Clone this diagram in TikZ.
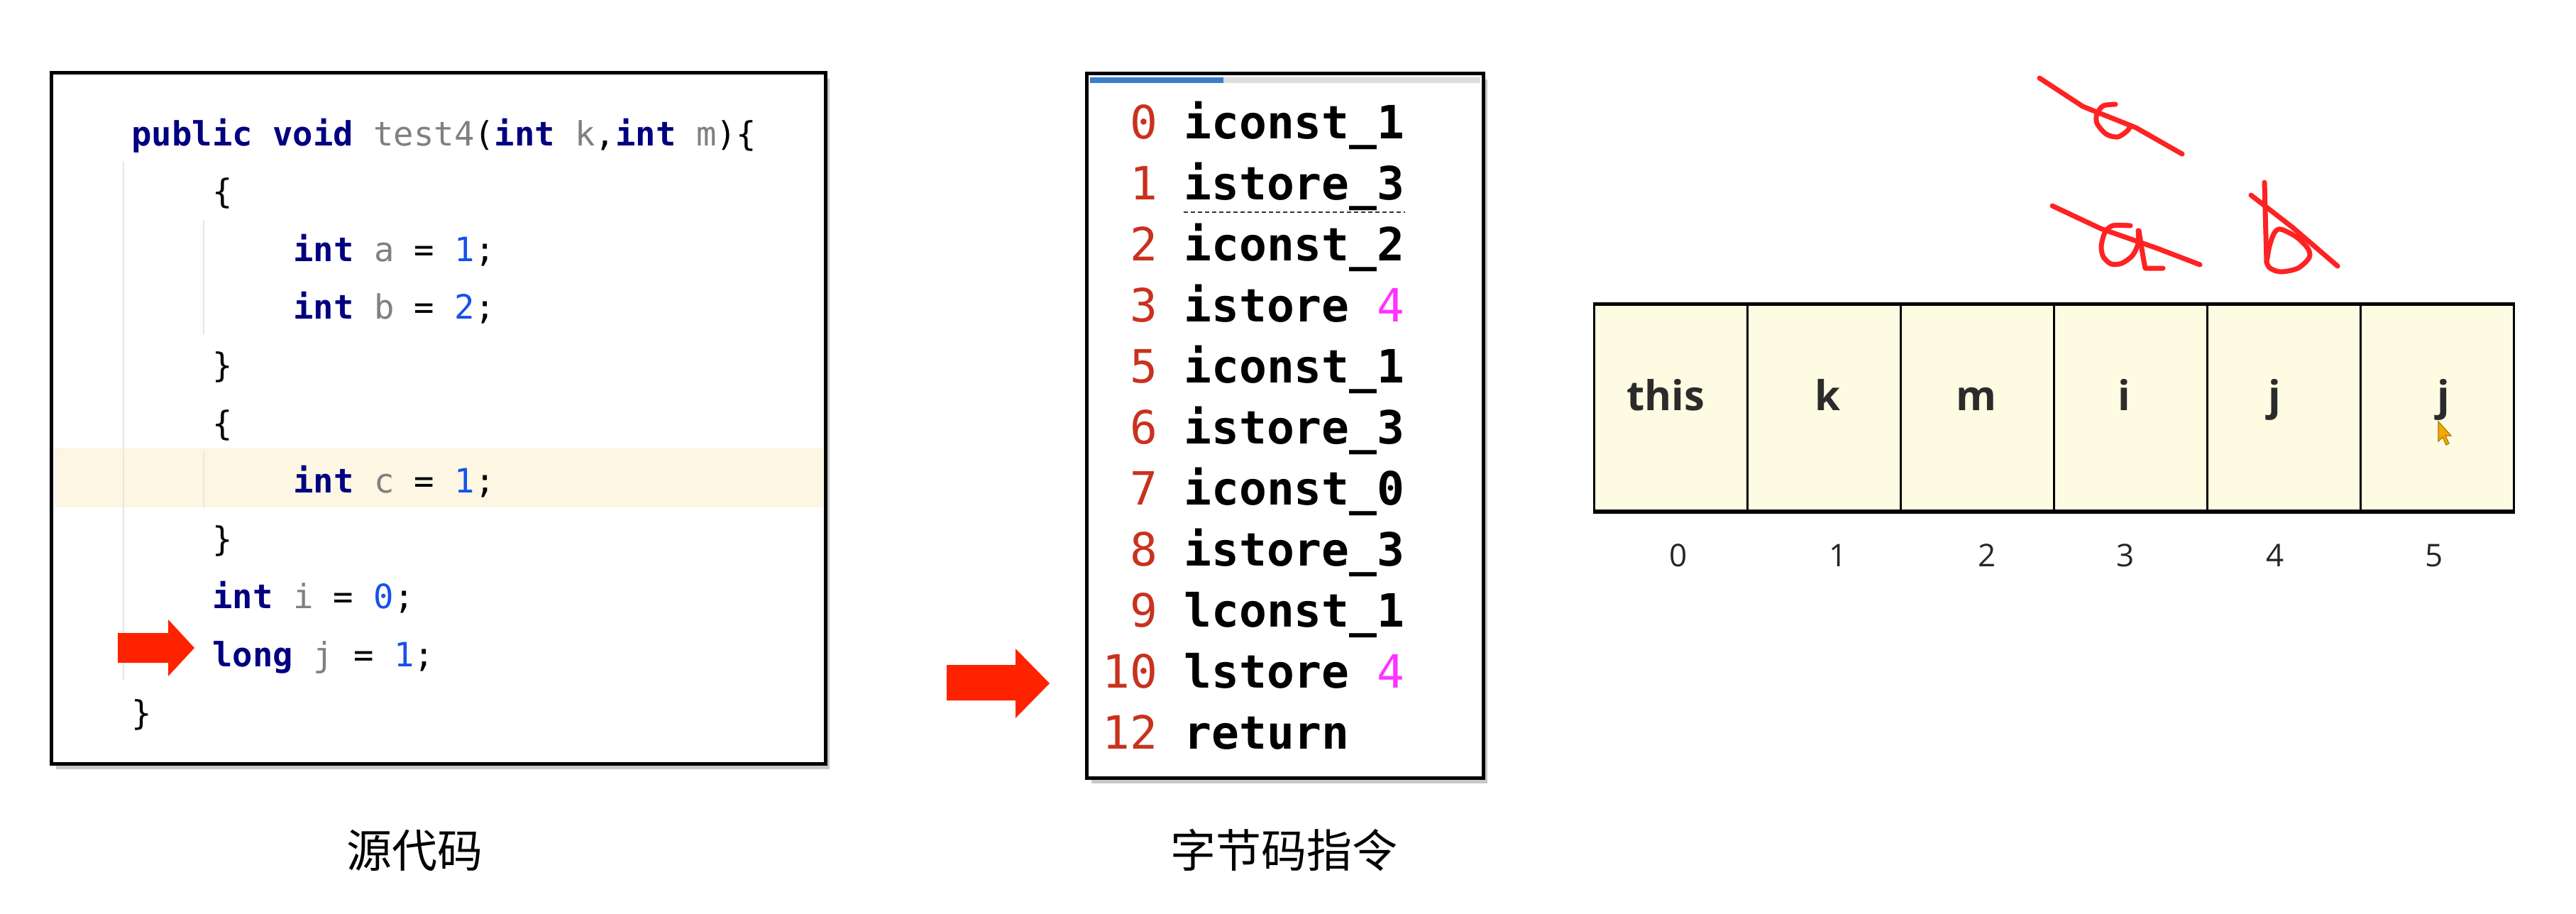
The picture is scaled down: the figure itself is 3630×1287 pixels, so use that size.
\documentclass[tikz,border=0pt]{standalone}
\usepackage{fontspec}
\setmainfont{Open Sans}
\newfontfamily\codefont{DejaVu Sans Mono}
\newfontfamily\tabfont{Open Sans}
\newfontfamily\cjkfont{Noto Sans CJK SC}
\usetikzlibrary{shadows}
\definecolor{kwblue}{HTML}{000080}
\definecolor{idgrey}{HTML}{808080}
\definecolor{numblue}{HTML}{1750EB}
\definecolor{bcred}{HTML}{C8321E}
\definecolor{bcmag}{HTML}{FF33FF}
\definecolor{cellfill}{HTML}{FEFBE3}
\definecolor{hlband}{HTML}{FCF6E2}
\definecolor{penred}{HTML}{FF2222}
\definecolor{arrowred}{HTML}{FF2200}
\definecolor{barblue}{HTML}{3C7DCA}
\definecolor{bargrey}{HTML}{DDDDDD}
\definecolor{guidegrey}{HTML}{E6E6E6}
\definecolor{tabtext}{HTML}{2B2B2B}
\definecolor{cursor}{HTML}{F5A800}
\newcommand\jkw[1]{{\bfseries\color{kwblue}#1}}
\newcommand\jid[1]{{\color{idgrey}#1}}
\newcommand\jnum[1]{{\color{numblue}#1}}
\tikzset{
  panel/.style={fill=white, inner sep=0pt,
    drop shadow={shadow xshift=3pt, shadow yshift=-4pt, opacity=0.3, fill=black!70}},
  frame/.style={draw=black, line width=2.5pt},
  guide/.style={draw=guidegrey, line width=1pt},
  codetxt/.style={inner sep=0pt, anchor=base west, font=\codefont\fontsize{23.6pt}{28pt}\selectfont},
  bcnum/.style={inner sep=0pt, anchor=base east, text=bcred, font=\codefont\fontsize{32.3pt}{38pt}\selectfont},
  bcins/.style={inner sep=0pt, anchor=base west, font=\codefont\bfseries\fontsize{32.3pt}{38pt}\selectfont},
  uline/.style={draw=black!80, line width=1pt, dash pattern=on 3pt off 2pt},
  blockarrow/.style={fill=arrowred},
  cell/.style={draw=black, line width=1.5pt, fill=cellfill, anchor=north west,
    minimum width=108pt, minimum height=145pt, inner sep=0pt},
  celltxt/.style={inner sep=0pt, anchor=base, text=tabtext, font=\tabfont\bfseries\fontsize{29pt}{34pt}\selectfont},
  idxtxt/.style={inner sep=0pt, anchor=base, text=black!85, font=\tabfont\fontsize{22pt}{26pt}\selectfont},
  pen/.style={draw=penred, line width=3.5pt, line cap=round, line join=round},
  captxt/.style={inner sep=0pt, anchor=base, font=\cjkfont\fontsize{32pt}{38pt}\selectfont}
}
\begin{document}
\begin{tikzpicture}[x=0.5pt,y=-0.5pt]
\fill[white] (0,0) rectangle (3630,1287);
\useasboundingbox (0,0) rectangle (3630,1287);

% ---------- source code panel ----------
\node[panel, minimum width=545pt, minimum height=486.5pt] (codebox) at (618,589.5) {};
\fill[hlband] (78,631) rectangle (1160,715);
\draw[guide] (174,228) -- (174,959);
\draw[guide] (287,310) -- (287,472);
\draw[guide] (287,636) -- (287,715);
\draw[frame] (codebox.north west) rectangle (codebox.south east);

\node[codetxt] (l0) at (185,205) {\jkw{public void} \jid{test4}(\jkw{int} \jid{k},\jkw{int} \jid{m})\{};
\node[codetxt] (l1) at (299,286.6) {\{};
\node[codetxt] (l2) at (413,368.2) {\jkw{int} \jid{a} = \jnum{1};};
\node[codetxt] (l3) at (413,449.8) {\jkw{int} \jid{b} = \jnum{2};};
\node[codetxt] (l4) at (299,531.4) {\}};
\node[codetxt] (l5) at (299,613) {\{};
\node[codetxt] (l6) at (413,694.6) {\jkw{int} \jid{c} = \jnum{1};};
\node[codetxt] (l7) at (299,776.2) {\}};
\node[codetxt] (l8) at (299,857.8) {\jkw{int} \jid{i} = \jnum{0};};
\node[codetxt] (l9) at (299,939.4) {\jkw{long} \jid{j} = \jnum{1};};
\node[codetxt] (l10) at (185,1021) {\}};

\fill[blockarrow] (166,892) -- (237,892) -- (237,873) -- (274,913) -- (237,953) -- (237,934) -- (166,934) -- cycle;

% ---------- bytecode panel ----------
\node[panel, minimum width=279pt, minimum height=496pt] (bcbox) at (1811,600) {};
\fill[bargrey] (1536,109) rectangle (2086,117);
\fill[barblue] (1536,109) rectangle (1724,117);
\draw[frame] (bcbox.north west) rectangle (bcbox.south east);

\node[bcnum] (n0) at (1632,195) {0};   \node[bcins] (i0) at (1668,195) {iconst\_1};
\node[bcnum] (n1) at (1632,281) {1};   \node[bcins] (i1) at (1668,281) {istore\_3};
\node[bcnum] (n2) at (1632,367) {2};   \node[bcins] (i2) at (1668,367) {iconst\_2};
\node[bcnum] (n3) at (1632,453) {3};   \node[bcins] (i3) at (1668,453) {istore {\mdseries\color{bcmag}4}};
\node[bcnum] (n4) at (1632,539) {5};   \node[bcins] (i4) at (1668,539) {iconst\_1};
\node[bcnum] (n5) at (1632,625) {6};   \node[bcins] (i5) at (1668,625) {istore\_3};
\node[bcnum] (n6) at (1632,711) {7};   \node[bcins] (i6) at (1668,711) {iconst\_0};
\node[bcnum] (n7) at (1632,797) {8};   \node[bcins] (i7) at (1668,797) {istore\_3};
\node[bcnum] (n8) at (1632,883) {9};   \node[bcins] (i8) at (1668,883) {lconst\_1};
\node[bcnum] (n9) at (1632,969) {10};  \node[bcins] (i9) at (1668,969) {lstore {\mdseries\color{bcmag}4}};
\node[bcnum] (n10) at (1632,1055) {12}; \node[bcins] (i10) at (1668,1055) {return};
\draw[uline] ([yshift=-9pt]i1.base west) -- ([yshift=-9pt]i1.base east);

\fill[blockarrow] (1334,937) -- (1431,937) -- (1431,914) -- (1479,963) -- (1431,1012) -- (1431,987) -- (1334,987) -- cycle;

% ---------- local variable table ----------
\foreach \i/\lab/\lx/\nx in {0/this/2347/2365, 1/k/2575/2590, 2/m/2785/2800, 3/i/2993/2995, 4/j/3205/3206, 5/j/3443/3430}{
  \node[cell] (cell\i) at ({2245+216*\i},428) {};
  \node[celltxt] (lab\i) at (\lx,578) {\lab};
  \node[idxtxt] (idx\i) at (\nx,798) {\i};
}
\draw[line width=2.5pt] (cell0.north west) -- (cell5.north east);
\draw[line width=2.5pt] (cell0.south west) -- (cell5.south east);

% mouse cursor
\filldraw[fill=cursor, draw=cursor!70!black, line width=0.6pt]
  (3436,594) -- (3436,622) -- (3442,616) -- (3447,627) -- (3451,625) -- (3446,614) -- (3454,614) -- cycle;

% ---------- handwritten strokes ----------
\draw[pen] (2874,110) -- (2935,150) -- (3010,180) -- (3075,217);
\draw[pen] plot[smooth] coordinates {(2981,147) (2964,149) (2955,160) (2955,174) (2968,189) (2984,193) (2997,185) (3002,178)};
\draw[pen] (2892,290) -- (2960,322) -- (3040,350) -- (3100,373);
\draw[pen] plot[smooth] coordinates {(3002,318) (2977,318) (2966,328) (2961,347) (2964,362) (2975,372) (2990,371) (3005,360) (3013,343) (3013,325)};
\draw[pen] plot[smooth] coordinates {(3014,325) (3018,350) (3021,368) (3023,378)} -- (3048,378);
\draw[pen] (3191,257) -- (3194,370);
\draw[pen] plot[smooth] coordinates {(3194,370) (3198,347) (3205,328) (3214,323) (3236,334) (3252,350) (3254,363) (3238,378) (3214,383) (3199,378) (3194,370)};
\draw[pen] (3172,275) -- (3230,320) -- (3294,375);

% ---------- captions ----------
\node[captxt] (cap1) at (584,1222) {源代码};
\node[captxt] (cap2) at (1809,1222) {字节码指令};
\end{tikzpicture}
\end{document}
